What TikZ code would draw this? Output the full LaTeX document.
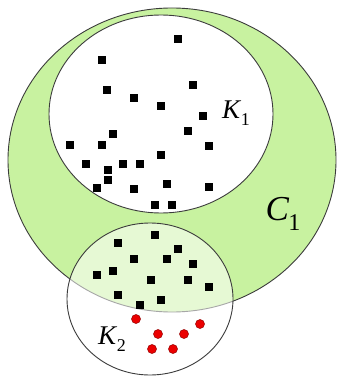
\documentclass[tikz,border=0pt]{standalone}
\usepackage{fontspec}
\setmainfont{Liberation Serif}
\usetikzlibrary{calc}
\definecolor{cgreen}{RGB}{200,242,160}
\definecolor{cline}{RGB}{60,60,60}
\definecolor{cred}{RGB}{235,0,0}
\definecolor{credline}{RGB}{150,0,0}
\tikzset{
  outline/.style={draw=cline, line width=0.9pt},
  lbl/.style={inner sep=0pt, anchor=center},
}
\newcommand{\mylab}[4]{{\fontsize{#1}{#1}\selectfont\textit{#3}\kern-0.02em\raisebox{-0.28em}{\fontsize{#2}{#2}\selectfont #4}}}
\begin{document}
\begin{tikzpicture}[x=1pt,y=-1pt]
\useasboundingbox (0,0) rectangle (339,379);
% C1
\fill[white] (0,0) rectangle (339,379);
\draw[outline, fill=cgreen] (172,160) ellipse [x radius=164, y radius=152];
% K1
\draw[outline, fill=white] (161,114) ellipse [x radius=112, y radius=99];
% K2
\fill[white, fill opacity=0.55] (150,299) ellipse [x radius=83, y radius=76];
\draw[outline] (150,299) ellipse [x radius=83, y radius=76];
% squares
\foreach \x/\y in {178/39, 102/60, 193/85, 107/90, 134/98, 161/106, 203/116,
  188/131, 113/134, 70/145, 102/145, 209/146, 161/155, 86/164, 123/164,
  140/164, 108/170, 108/180, 97/188, 134/189, 167/184, 209/187, 155/205,
  172/205,
  155/235, 118/243, 178/249, 134/259, 167/259, 193/264, 97/275, 113/271,
  151/280, 188/280, 209/287, 118/295, 161/300, 140/305}
  \fill[black] (\x-4,\y-4) rectangle (\x+4,\y+4);
% red dots
\foreach \x/\y in {136/319, 200/324, 158/334, 184/334, 152/349, 173/349}
  \draw[fill=cred, draw=credline, line width=0.5pt] (\x,\y) circle [radius=4.5];
% labels
\node[lbl] (k1) at (236,113) {\mylab{27}{18}{K}{1}};
\node[lbl] (c1) at (283,214) {\mylab{35}{24}{C}{1}};
\node[lbl] (k2) at (112,339) {\mylab{27}{18}{K}{2}};
\end{tikzpicture}
\end{document}
